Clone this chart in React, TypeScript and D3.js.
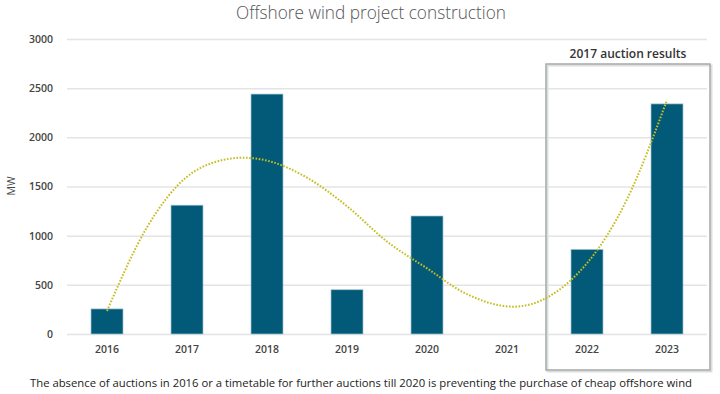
import React, { useRef, useEffect } from "react";
import { select, scaleBand, scaleLinear, axisLeft, axisBottom, line, curveMonotoneX } from "d3";

const years = ["2016", "2017", "2018", "2019", "2020", "2021", "2022", "2023"];
const capacity = [255, 1310, 2440, 450, 1200, 0, 860, 2340];
const yTicks = [0, 500, 1000, 1500, 2000, 2500, 3000];

// trendline (position in years from 2016, MW)
const trendPos = [0, 0.5, 1, 1.3, 1.7, 2, 2.5, 3, 3.5, 4, 4.5, 5.08, 6, 6.5, 7];
const trendVal = [234, 1085, 1600, 1735, 1793, 1763, 1590, 1300, 940, 668, 405, 278, 720, 1370, 2380];

const title = "Offshore wind project construction";
const boxLabel = "2017 auction results";
const footnote =
  "The absence of auctions in 2016 or a timetable for further auctions till 2020 is preventing the purchase of cheap offshore wind";

const W = 720;
const H = 394;
const font = "'Open Sans', 'Noto Sans', sans-serif";

const App = () => {
  const svgRef = useRef<SVGSVGElement>(null);

  useEffect(() => {
    const svg = select(svgRef.current);
    svg.selectAll("*").remove();

    const left = 67;
    const right = 707;
    const top = 39;
    const bottom = 334;

    const x = scaleBand().domain(years).range([left, right]).paddingInner(0.6).paddingOuter(0.3);
    const y = scaleLinear().domain([0, 3000]).range([bottom, top]);
    const step = x.step();
    const c0 = x(years[0])! + x.bandwidth() / 2;
    const xPos = scaleLinear().domain([0, 1]).range([c0, c0 + step]);

    // title
    svg
      .append("text")
      .attr("x", 371)
      .attr("y", 19)
      .attr("text-anchor", "middle")
      .attr("font-family", font)
      .attr("font-size", 19)
      .attr("font-weight", 300)
      .attr("fill", "#555")
      .attr("textLength", 270)
      .attr("lengthAdjust", "spacingAndGlyphs")
      .text(title);

    // grid
    const grid = svg.append("g").attr("transform", `translate(${left},0)`);
    grid
      .call(axisLeft(y).tickValues(yTicks).tickSize(-(right - left)).tickFormat(() => ""))
      .call((g) => g.select(".domain").remove())
      .call((g) => g.selectAll(".tick line").attr("stroke", "#e4e4e4").attr("stroke-width", 1.5));

    // y labels
    const yAxis = svg.append("g").attr("transform", `translate(${left},0)`);
    yAxis
      .call(axisLeft(y).tickValues(yTicks).tickSize(0).tickPadding(14).tickFormat((d) => String(d)))
      .call((g) => g.select(".domain").remove())
      .call((g) =>
        g
          .selectAll("text")
          .attr("font-family", font)
          .attr("font-size", 10.5)
          .attr("font-weight", 600)
          .attr("fill", "#444")
      );

    svg
      .append("text")
      .attr("transform", "translate(15,186) rotate(-90)")
      .attr("text-anchor", "middle")
      .attr("font-family", font)
      .attr("font-size", 10.5)
      .attr("fill", "#444")
      .text("MW");

    // auction box
    const bx0 = x("2022")! - (step - x.bandwidth()) / 2 - 1;
    const bx1 = right + 3;
    svg
      .append("rect")
      .attr("x", bx0 + 1.5)
      .attr("y", 65.5)
      .attr("width", bx1 - bx0)
      .attr("height", 306)
      .attr("fill", "none")
      .attr("stroke", "#ddd")
      .attr("stroke-width", 2);
    svg
      .append("rect")
      .attr("x", bx0)
      .attr("y", 64)
      .attr("width", bx1 - bx0)
      .attr("height", 306)
      .attr("fill", "none")
      .attr("stroke", "#a3aaa8")
      .attr("stroke-width", 1.5);
    svg
      .append("text")
      .attr("x", (bx0 + bx1) / 2)
      .attr("y", 58)
      .attr("text-anchor", "middle")
      .attr("font-family", font)
      .attr("font-size", 12)
      .attr("font-weight", 600)
      .attr("fill", "#333")
      .text(boxLabel);

    // bars
    svg
      .append("g")
      .selectAll("rect")
      .data(years.map((yr, i) => ({ yr, v: capacity[i] })).filter((d) => d.v > 0))
      .enter()
      .append("rect")
      .attr("x", (d) => x(d.yr)!)
      .attr("y", (d) => y(d.v))
      .attr("width", x.bandwidth())
      .attr("height", (d) => y(0) - y(d.v))
      .attr("fill", "#035a78")
      .attr("stroke", "#9fc3d0")
      .attr("stroke-width", 0.7);

    // x labels
    const xAxis = svg.append("g").attr("transform", `translate(0,${bottom})`);
    xAxis
      .call(axisBottom(x).tickSize(0).tickPadding(12))
      .call((g) => g.select(".domain").remove())
      .call((g) =>
        g
          .selectAll("text")
          .attr("font-family", font)
          .attr("font-size", 10.5)
          .attr("font-weight", 600)
          .attr("fill", "#444")
      );

    // trendline
    const trend = line<number>()
      .x((_, i) => xPos(trendPos[i]))
      .y((d) => y(d))
      .curve(curveMonotoneX);
    svg
      .append("path")
      .attr("d", trend(trendVal))
      .attr("fill", "none")
      .attr("stroke", "#c6bd1e")
      .attr("stroke-width", 2)
      .attr("stroke-dasharray", "1.6,1.6");

    // footnote
    svg
      .append("text")
      .attr("x", 30)
      .attr("y", 387)
      .attr("font-family", font)
      .attr("font-size", 11)
      .attr("fill", "#222")
      .attr("textLength", 662)
      .attr("lengthAdjust", "spacingAndGlyphs")
      .text(footnote);
  }, []);

  return (
    <div style={{ position: "absolute", left: 0, top: 0 }}>
      <svg ref={svgRef} width={W} height={H} style={{ display: "block", background: "#fff" }} />
    </div>
  );
};

export default App;
